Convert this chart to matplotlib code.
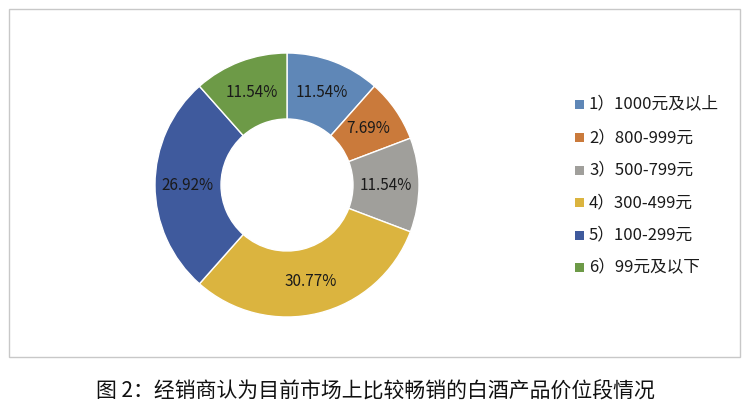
import matplotlib
matplotlib.use("Agg")
import matplotlib.pyplot as plt
from matplotlib.patches import Rectangle
import numpy as np

plt.rcParams['font.family'] = ['Noto Sans CJK SC', 'DejaVu Sans']

categories = ['1）1000元及以上', '2）800-999元', '3）500-799元', '4）300-499元', '5）100-299元', '6）99元及以下']
values = [11.54, 7.69, 11.54, 30.77, 26.92, 11.54]
labels = ['11.54%', '7.69%', '11.54%', '30.77%', '26.92%', '11.54%']
colors = ['#5F87B7', '#CA7A3B', '#A09F9B', '#DBB43F', '#3F5A9D', '#6D9A47']
caption = '图 2：经销商认为目前市场上比较畅销的白酒产品价位段情况'

W, H = 751, 417
fig = plt.figure(figsize=(W / 100, H / 100), dpi=100)
fig.patch.set_facecolor('white')

# outer box
box = Rectangle((9 / W, 1 - 357 / H), 731 / W, 348 / H, transform=fig.transFigure,
                facecolor='none', edgecolor='#C8C8C8', linewidth=1.0, zorder=-1)
fig.add_artist(box)

R = 132
cx, cy = 287, 185
ax = fig.add_axes([(cx - R) / W, 1 - (cy + R) / H, 2 * R / W, 2 * R / H])
wedges, _ = ax.pie(values, colors=colors, startangle=90, counterclock=False,
                   radius=1.0, wedgeprops=dict(width=0.5, edgecolor='white', linewidth=1.0))
ang = 90.0
for v, lab in zip(values, labels):
    mid = ang - v / 100 * 360 / 2
    ang -= v / 100 * 360
    r = 0.75
    ax.text(r * np.cos(np.radians(mid)), r * np.sin(np.radians(mid)), lab,
            ha='center', va='center', fontsize=11, color='#1a1a1a')
ax.set_xlim(-1, 1)
ax.set_ylim(-1, 1)
ax.set_aspect('equal')
ax.axis('off')

# legend
y0, dy = 105, 32.5
for i, (c, lab) in enumerate(zip(colors, categories)):
    y = y0 + i * dy
    fig.add_artist(Rectangle((575 / W, 1 - (y + 4.5) / H), 9 / W, 9 / H,
                             transform=fig.transFigure, facecolor=c, edgecolor='none'))
    fig.text(589 / W, 1 - y / H, lab, ha='left', va='center', fontsize=12, color='#1a1a1a')

fig.text(0.5, 1 - 392 / H, caption, ha='center', va='center', fontsize=15, color='#111111')

fig.savefig('out.png', dpi=100)
